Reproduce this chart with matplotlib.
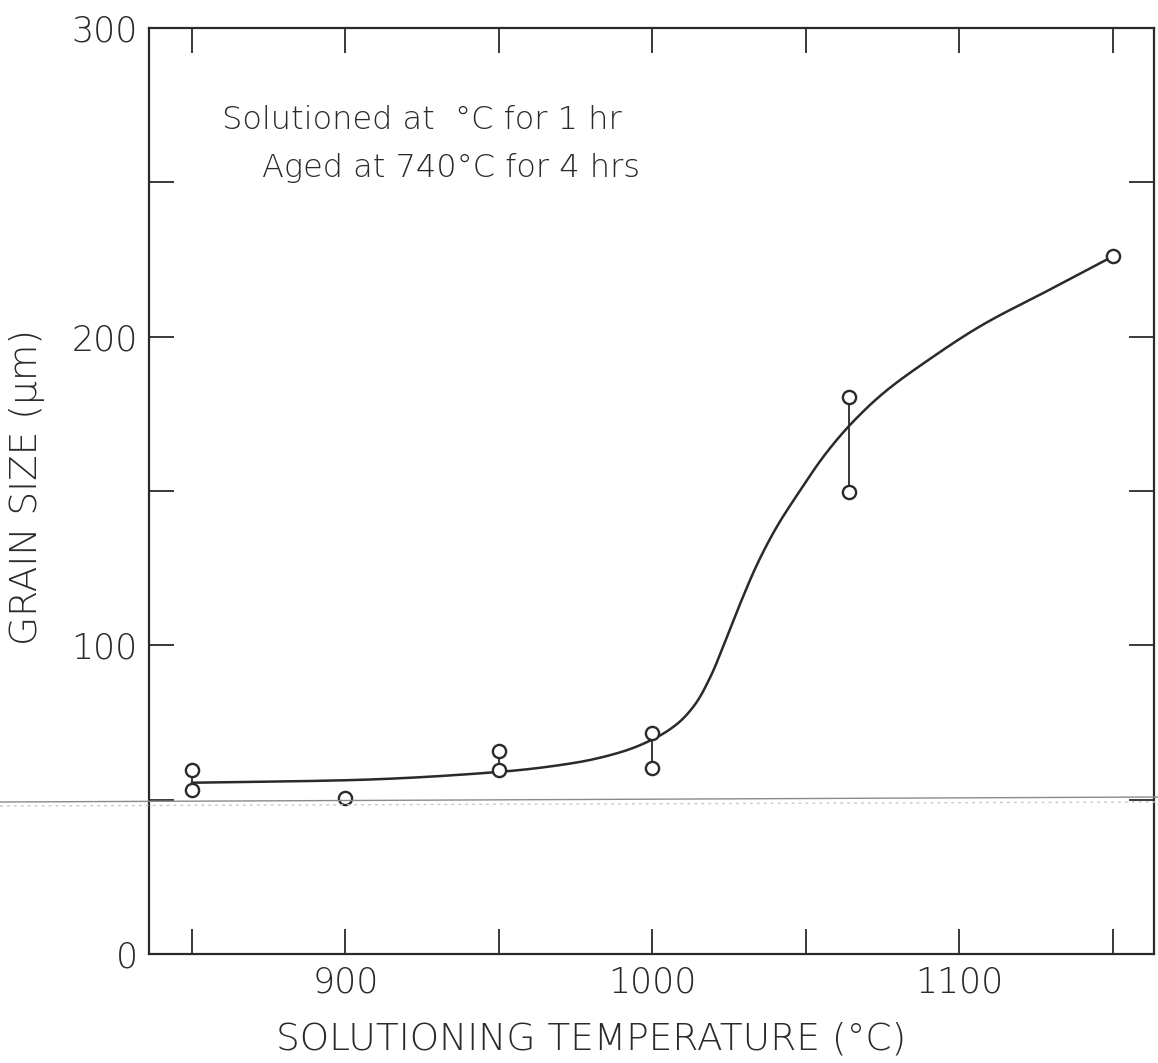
import numpy as np
import matplotlib.pyplot as plt
from matplotlib.lines import Line2D

# 测量点: 固溶温度 (°C) 与晶粒尺寸 (μm)
temps = [850, 850, 900, 950, 950, 1000, 1000, 1064, 1064, 1150]
grain = [59.7, 53.2, 50.6, 65.9, 59.7, 71.7, 60.4, 180.5, 149.7, 226]

# 同一温度下两次测量之间的连线
pair_t = [850, 950, 1000, 1064]
pair_lo = [53.2, 59.7, 60.4, 149.7]
pair_hi = [59.7, 65.9, 71.7, 180.5]

# 手绘趋势曲线上读出的节点
curve_t = [850, 900, 950, 975, 990, 1000, 1008, 1014, 1019, 1024, 1029, 1034,
           1040, 1048, 1056, 1064, 1075, 1090, 1107, 1129, 1150]
curve_g = [55.5, 56.3, 59, 62, 65.5, 69.5, 74.5, 81, 90, 102, 114.5, 126,
           137.5, 150, 161.5, 171, 181.5, 192.5, 203.5, 215, 226]

x_ticks = [850, 900, 950, 1000, 1050, 1100, 1150]
x_labels = ['', '900', '', '1000', '', '1100', '']
y_ticks = [0, 50, 100, 150, 200, 250, 300]
y_labels = ['0', '', '100', '', '200', '', '300']

INK = '#2a2a2a'
plt.rcParams['font.family'] = ['DejaVu Sans']
plt.rcParams['font.weight'] = 'light'
plt.rcParams['axes.labelweight'] = 'light'


def pchip(x, y, xn):
    """单调三次Hermite插值, 用来把节点连成光滑曲线"""
    x = np.asarray(x, float)
    y = np.asarray(y, float)
    h = np.diff(x)
    d = np.diff(y) / h
    m = np.zeros_like(y)
    m[0], m[-1] = d[0], d[-1]
    for k in range(1, len(x) - 1):
        if d[k - 1] * d[k] > 0:
            w1 = 2 * h[k] + h[k - 1]
            w2 = h[k] + 2 * h[k - 1]
            m[k] = (w1 + w2) / (w1 / d[k - 1] + w2 / d[k])
    idx = np.clip(np.searchsorted(x, xn) - 1, 0, len(x) - 2)
    t = (xn - x[idx]) / h[idx]
    h00 = 2 * t**3 - 3 * t**2 + 1
    h10 = t**3 - 2 * t**2 + t
    h01 = -2 * t**3 + 3 * t**2
    h11 = t**3 - t**2
    return (h00 * y[idx] + h10 * h[idx] * m[idx]
            + h01 * y[idx + 1] + h11 * h[idx] * m[idx + 1])


fig = plt.figure(figsize=(11.58, 10.63), dpi=100)
ax = fig.add_axes([0.1287, 0.1025, 0.8678, 0.8712])

# 趋势曲线
xs = np.linspace(curve_t[0], curve_t[-1], 600)
ax.plot(xs, pchip(curve_t, curve_g, xs), color=INK, lw=1.8, zorder=2)

# 成对测量点之间的竖线
for t, lo, hi in zip(pair_t, pair_lo, pair_hi):
    ax.plot([t, t], [lo, hi], color=INK, lw=1.3, zorder=2)

# 空心圆数据点
ax.plot(temps, grain, linestyle='none', marker='o', markersize=9.5,
        markerfacecolor='white', markeredgecolor=INK, markeredgewidth=1.7, zorder=3)

ax.set_xlim(836, 1163.4)
ax.set_ylim(0, 300)

ax.set_xticks(x_ticks)
ax.set_xticklabels(x_labels)
ax.set_yticks(y_ticks)
ax.set_yticklabels(y_labels)
ax.tick_params(axis='both', direction='in', length=18, width=1.3, color=INK,
               top=True, right=True, labelsize=25, labelcolor=INK, pad=8)

for sp in ax.spines.values():
    sp.set_linewidth(1.6)
    sp.set_color(INK)

ax.set_xlabel('SOLUTIONING TEMPERATURE (°C)', fontsize=27, color=INK, fontweight='light')
ax.xaxis.set_label_coords(0.44, -0.073)
ax.set_ylabel('GRAIN SIZE (μm)', fontsize=27, color=INK, fontweight='light')
ax.yaxis.set_label_coords(-0.104, 0.504)

ax.text(0.073, 0.891, 'Solutioned at  °C for 1 hr', transform=ax.transAxes,
        fontsize=23, color=INK, va='baseline', ha='left')
ax.text(0.112, 0.839, 'Aged at 740°C for 4 hrs', transform=ax.transAxes,
        fontsize=23, color=INK, va='baseline', ha='left')

# 纸面上横穿整幅图的折痕
fig.add_artist(Line2D([0, 1], [1 - 802 / 1063, 1 - 797 / 1063],
                      transform=fig.transFigure, color='#8a8a8a', lw=1.0, zorder=1))
fig.add_artist(Line2D([0, 1], [1 - 806 / 1063, 1 - 802 / 1063],
                      transform=fig.transFigure, color='#c8c8c8', lw=1.0,
                      linestyle=(0, (2, 3)), zorder=1))

fig.savefig('out.png', dpi=100)
